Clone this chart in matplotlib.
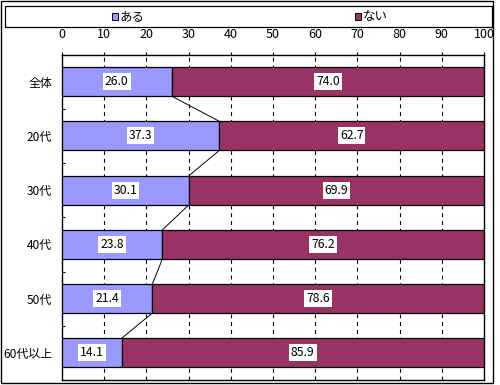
import matplotlib.pyplot as plt
from matplotlib.patches import Rectangle
import numpy as np

plt.rcParams['font.family'] = ['Noto Sans CJK JP', 'DejaVu Sans']

categories = ['全体', '20代', '30代', '40代', '50代', '60代以上']
aru = [26.0, 37.3, 30.1, 23.8, 21.4, 14.1]
nai = [74.0, 62.7, 69.9, 76.2, 78.6, 85.9]
series_names = ['ある', 'ない']
colors = ['#9999FF', '#993366']
xticks = list(range(0, 101, 10))

W, H = 500, 385
fig = plt.figure(figsize=(W / 100, H / 100), dpi=100)

# plot area in pixels: x 62..484, y 54.5..380
ax = fig.add_axes([62 / W, 1 - 380 / H, (484 - 62) / W, (380 - 54.5) / H])

y = np.arange(len(categories))
h = 0.535
ax.barh(y, aru, height=h, color=colors[0], edgecolor='black', linewidth=0.9, zorder=3)
ax.barh(y, nai, left=aru, height=h, color=colors[1], edgecolor='black', linewidth=0.9, zorder=3)

# series lines between the end of the first segment
for i in range(len(categories) - 1):
    ax.plot([aru[i], aru[i + 1]], [i + h / 2, i + 1 - h / 2], color='black', lw=0.7, zorder=2)

# value labels
for i in range(len(categories)):
    for xpos, v in [(aru[i] / 2, aru[i]), (aru[i] + nai[i] / 2, nai[i])]:
        ax.text(xpos, i, '%.1f' % v, ha='center', va='center', fontsize=8.8, zorder=5,
                bbox=dict(facecolor='white', edgecolor='none', pad=1.4))

ax.set_xlim(0, 100)
ax.set_ylim(len(categories) - 0.5, -0.5)
ax.set_xticks(xticks)
ax.xaxis.tick_top()
ax.tick_params(axis='x', direction='out', length=2.5, width=0.8, pad=7.5, labelsize=9)
ax.set_yticks(y)
ax.set_yticklabels(categories)
ax.set_yticks(y[:-1] + 0.5, minor=True)
ax.tick_params(axis='y', which='major', length=0, pad=7, labelsize=8.6)
ax.tick_params(axis='y', which='minor', direction='in', length=2.5, width=0.8)
for x in xticks[1:-1]:
    ax.axvline(x, color='black', lw=0.8, ls=(0, (3.5, 3.5)), zorder=1)
for s in ax.spines.values():
    s.set_linewidth(1.0)

# legend box
fig.patches.append(Rectangle((5 / W, 1 - 27 / H), (492 - 5) / W, 21 / H, transform=fig.transFigure,
                             facecolor='white', edgecolor='black', lw=0.9))
for name, c, px in zip(series_names, colors, [112, 355]):
    fig.patches.append(Rectangle((px / W, 1 - 19.5 / H), 6 / W, 6 / H, transform=fig.transFigure,
                                 facecolor=c, edgecolor='black', lw=0.7))
    fig.text((px + 8) / W, 1 - 16.5 / H, name, ha='left', va='center', fontsize=9)

# outer border
fig.patches.append(Rectangle((1 / W, 1 - 383 / H), 492 / W, 382 / H, transform=fig.transFigure,
                             facecolor='none', edgecolor='black', lw=1.0))

fig.savefig('out.png', dpi=100)
